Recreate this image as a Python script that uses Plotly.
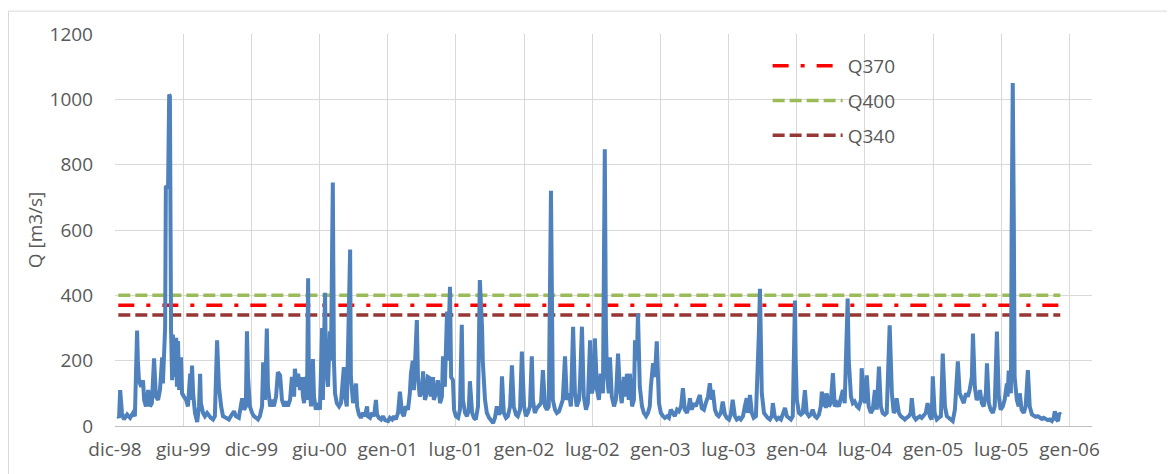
import plotly.graph_objects as go
import pandas as pd

# ---------------------------------------------------------
# DATI
# ---------------------------------------------------------
# portata giornaliera: (giorno dal 1999-01-01, Q m3/s)
SERIE_Q = [
    (0, 30), (2, 25), (5, 110), (10, 40), (15, 20), (24, 35), (32, 25), (40, 40), (45, 30),
    (51, 292), (53, 200), (56, 140), (62, 120), (67, 140), (70, 80), (75, 60), (81, 110),
    (86, 60), (91, 70), (97, 207), (102, 90), (108, 80), (113, 110), (119, 210), (121, 130),
    (127, 300), (129, 735), (135, 730), (138, 1015), (140, 1010), (143, 300), (146, 140),
    (148, 280), (154, 150), (157, 270), (159, 120), (162, 260), (165, 110), (170, 210),
    (173, 100), (178, 90), (184, 80), (189, 60), (195, 160), (197, 80), (200, 185), (203, 100),
    (208, 40), (214, 12), (219, 60), (222, 160), (224, 70), (230, 40), (235, 30), (241, 40),
    (246, 30), (251, 25), (257, 20), (262, 30), (268, 262), (273, 120), (279, 60), (284, 30),
    (292, 25), (300, 20), (308, 35), (314, 45), (319, 30), (327, 25), (336, 85), (341, 50),
    (346, 60), (349, 290), (352, 150), (357, 60), (363, 40), (368, 30), (374, 25), (379, 20),
    (384, 30), (390, 60), (393, 195), (398, 80), (403, 298), (406, 120), (412, 60), (417, 80),
    (422, 60), (428, 90), (433, 165), (439, 155), (444, 80), (450, 60), (455, 75), (460, 60),
    (466, 80), (471, 150), (477, 90), (479, 175), (485, 120), (488, 160), (493, 110),
    (498, 150), (501, 90), (504, 70), (509, 150), (512, 80), (515, 452), (517, 150), (523, 60),
    (528, 205), (531, 90), (536, 50), (542, 70), (547, 50), (553, 300), (555, 80), (561, 408),
    (563, 200), (569, 120), (574, 290), (577, 200), (582, 745), (585, 200), (588, 100),
    (593, 70), (599, 60), (604, 70), (612, 180), (615, 90), (620, 60), (629, 540), (631, 150),
    (637, 70), (645, 130), (648, 60), (653, 35), (658, 25), (664, 40), (669, 30), (675, 60),
    (677, 30), (683, 25), (688, 40), (694, 30), (699, 80), (702, 35), (707, 25), (713, 20),
    (718, 30), (724, 18), (732, 15), (737, 25), (743, 20), (748, 30), (753, 20), (759, 40),
    (764, 105), (770, 40), (775, 30), (780, 60), (786, 50), (791, 100), (794, 160), (799, 200),
    (802, 110), (810, 324), (813, 150), (818, 90), (824, 110), (827, 167), (832, 80),
    (837, 100), (840, 150), (846, 146), (848, 90), (854, 150), (856, 80), (862, 100),
    (867, 140), (873, 70), (878, 90), (881, 213), (886, 120), (892, 350), (894, 200),
    (900, 426), (903, 150), (908, 140), (911, 50), (916, 30), (922, 25), (927, 50), (932, 310),
    (935, 80), (941, 40), (946, 30), (951, 50), (954, 137), (960, 40), (965, 25), (970, 20),
    (976, 60), (979, 300), (981, 447), (987, 300), (989, 198), (995, 80), (1000, 40),
    (1006, 25), (1011, 15), (1017, 9), (1022, 25), (1027, 60), (1033, 35), (1038, 45),
    (1041, 152), (1046, 40), (1052, 25), (1057, 30), (1063, 60), (1065, 100), (1068, 186),
    (1073, 60), (1079, 35), (1084, 30), (1090, 50), (1095, 228), (1101, 60), (1106, 30),
    (1111, 40), (1117, 60), (1122, 213), (1125, 80), (1130, 40), (1136, 55), (1141, 60),
    (1147, 70), (1152, 171), (1158, 60), (1163, 50), (1168, 60), (1174, 720), (1177, 200),
    (1179, 80), (1185, 50), (1190, 40), (1196, 45), (1201, 60), (1206, 80), (1212, 213),
    (1217, 80), (1223, 100), (1228, 60), (1234, 304), (1239, 100), (1244, 60), (1250, 80),
    (1253, 140), (1258, 304), (1263, 90), (1269, 50), (1274, 70), (1280, 262), (1285, 100),
    (1291, 130), (1293, 268), (1299, 110), (1304, 80), (1309, 160), (1315, 100), (1320, 847),
    (1323, 300), (1326, 150), (1331, 100), (1334, 210), (1339, 90), (1345, 60), (1350, 80),
    (1356, 222), (1361, 110), (1366, 70), (1372, 150), (1377, 90), (1380, 160), (1385, 80),
    (1388, 160), (1394, 60), (1399, 80), (1402, 262), (1407, 200), (1410, 344), (1415, 120),
    (1421, 60), (1426, 40), (1432, 30), (1437, 40), (1442, 60), (1445, 120), (1451, 192),
    (1456, 150), (1461, 259), (1467, 70), (1472, 40), (1478, 30), (1483, 25), (1489, 30),
    (1494, 25), (1499, 50), (1505, 40), (1510, 30), (1516, 50), (1521, 45), (1527, 60),
    (1532, 116), (1537, 50), (1543, 40), (1548, 60), (1551, 85), (1556, 50), (1562, 70),
    (1567, 60), (1573, 80), (1578, 95), (1583, 55), (1589, 50), (1594, 70), (1600, 90),
    (1605, 131), (1610, 80), (1613, 110), (1619, 50), (1624, 35), (1629, 30), (1635, 40),
    (1640, 75), (1646, 35), (1651, 25), (1657, 20), (1662, 35), (1667, 80), (1673, 30),
    (1678, 20), (1684, 25), (1689, 20), (1695, 30), (1700, 60), (1705, 85), (1708, 40),
    (1714, 95), (1719, 40), (1724, 25), (1730, 30), (1735, 150), (1738, 280), (1741, 420),
    (1743, 300), (1746, 100), (1752, 40), (1757, 30), (1762, 25), (1768, 20), (1773, 30),
    (1776, 70), (1781, 30), (1787, 20), (1792, 25), (1798, 20), (1803, 35), (1809, 55),
    (1814, 30), (1819, 25), (1825, 20), (1830, 30), (1836, 384), (1838, 200), (1841, 80),
    (1847, 40), (1852, 35), (1857, 40), (1863, 110), (1868, 40), (1874, 30), (1879, 35),
    (1884, 50), (1890, 30), (1895, 25), (1901, 35), (1906, 60), (1909, 105), (1914, 60),
    (1917, 100), (1920, 55), (1922, 100), (1928, 60), (1933, 70), (1939, 162), (1944, 60),
    (1950, 70), (1955, 60), (1960, 80), (1966, 110), (1971, 70), (1977, 250), (1979, 390),
    (1982, 200), (1988, 90), (1993, 70), (1998, 75), (2004, 60), (2009, 55), (2015, 80),
    (2017, 177), (2023, 90), (2026, 70), (2031, 155), (2036, 60), (2042, 40), (2047, 50),
    (2053, 110), (2055, 60), (2058, 50), (2064, 182), (2069, 60), (2074, 40), (2080, 35),
    (2085, 40), (2091, 200), (2093, 308), (2099, 100), (2104, 40), (2110, 50), (2112, 85),
    (2118, 40), (2123, 30), (2129, 25), (2134, 20), (2139, 25), (2145, 30), (2150, 40),
    (2153, 85), (2158, 30), (2164, 20), (2169, 25), (2175, 30), (2180, 25), (2186, 35),
    (2191, 40), (2196, 70), (2202, 30), (2207, 20), (2210, 152), (2215, 40), (2221, 20),
    (2226, 25), (2232, 30), (2237, 222), (2243, 60), (2248, 30), (2253, 25), (2259, 20),
    (2264, 15), (2270, 50), (2275, 140), (2278, 198), (2283, 100), (2289, 80), (2294, 70),
    (2300, 100), (2305, 90), (2310, 110), (2316, 150), (2319, 283), (2324, 120), (2329, 80),
    (2335, 90), (2338, 110), (2343, 70), (2348, 60), (2354, 100), (2357, 192), (2362, 70),
    (2367, 50), (2373, 40), (2378, 60), (2381, 150), (2384, 289), (2389, 90), (2394, 50),
    (2400, 60), (2405, 80), (2411, 130), (2413, 90), (2416, 170), (2422, 100), (2424, 600),
    (2427, 1050), (2430, 600), (2432, 150), (2438, 80), (2443, 60), (2446, 100), (2451, 50),
    (2457, 40), (2462, 60), (2468, 171), (2473, 60), (2479, 35), (2484, 30), (2489, 28),
    (2495, 30), (2500, 25), (2506, 22), (2511, 25), (2517, 20), (2522, 18), (2527, 20),
    (2533, 15), (2538, 25), (2541, 45), (2546, 20), (2550, 15), (2553, 40), (2556, 35),
]
INIZIO_SERIE = "1999-01-01"

# soglie
SOGLIE_NOMI = ["Q370", "Q400", "Q340"]
SOGLIE_VALORI = [370, 400, 340]

# asse X (etichette ogni 185 giorni, come nel grafico Excel)
TICK_LABELS = ["dic-98", "giu-99", "dic-99", "giu-00", "gen-01", "lug-01", "gen-02",
               "lug-02", "gen-03", "lug-03", "gen-04", "lug-04", "gen-05", "lug-05", "gen-06"]
TICK_INIZIO = "1998-12-23"
TICK_PASSO_GIORNI = 185
X_FINE = "2006-03-27"

# ---------------------------------------------------------
# PREPARAZIONE
# ---------------------------------------------------------
giorni = [d for d, _ in SERIE_Q]
portata = [q for _, q in SERIE_Q]
date = pd.Timestamp(INIZIO_SERIE) + pd.to_timedelta(giorni, unit="D")
tickvals = pd.date_range(TICK_INIZIO, periods=len(TICK_LABELS), freq=f"{TICK_PASSO_GIORNI}D")

FONT = "Open Sans"
GRIGIO_TESTO = "#595959"
GRIGLIA = "#d9d9d9"

stili = {
    "Q370": dict(color="#FF0000", width=3.5, dash="16px,12px,4px,12px"),
    "Q400": dict(color="#9BBB59", width=3.5, dash="12px,5px"),
    "Q340": dict(color="#953735", width=3.5, dash="12px,5px"),
}

fig = go.Figure()

# linee di soglia (sotto la serie)
for i, (nome, val) in enumerate(zip(SOGLIE_NOMI, SOGLIE_VALORI)):
    fig.add_trace(go.Scatter(
        x=[date[0], date[-1]], y=[val, val],
        mode="lines", name=nome, legendgroup=nome, legendrank=i + 1,
        line=stili[nome],
    ))

# serie delle portate
fig.add_trace(go.Scatter(
    x=date, y=portata, mode="lines", name="Q",
    line=dict(color="#4F81BD", width=4), showlegend=False,
))

# bordo esterno dell'area grafico
fig.add_shape(type="rect", xref="paper", yref="paper",
              x0=-0.1090, x1=1.2, y0=-0.2, y1=1.0584,
              line=dict(color=GRIGLIA, width=1), fillcolor="rgba(0,0,0,0)", layer="below")

# la pagina html ha 8px di margine: figura leggermente più piccola
fig.update_layout(
    width=1167, height=466,
    margin=dict(l=107, r=83, t=26, b=46),
    paper_bgcolor="white", plot_bgcolor="white",
    font=dict(family=FONT, size=19, color=GRIGIO_TESTO),
    legend=dict(
        x=0.668, y=0.967, xanchor="left", yanchor="top",
        bgcolor="rgba(0,0,0,0)", traceorder="grouped", tracegroupgap=7,
        itemwidth=70,
        font=dict(size=19, color=GRIGIO_TESTO),
    ),
    xaxis=dict(
        range=[pd.Timestamp(TICK_INIZIO), pd.Timestamp(X_FINE)],
        tickmode="array", tickvals=tickvals, ticktext=TICK_LABELS,
        showgrid=True, gridcolor=GRIGLIA, gridwidth=1,
        showline=True, linecolor="#bfbfbf", linewidth=1,
        ticks="", ticklabelstandoff=6, zeroline=False,
    ),
    yaxis=dict(
        range=[0, 1200], dtick=200, tick0=0,
        showgrid=True, gridcolor=GRIGLIA, gridwidth=1,
        showline=False, zeroline=False, ticks="", ticklabelstandoff=21,
        title=dict(text="Q [m3/s]", standoff=1, font=dict(size=19, color=GRIGIO_TESTO)),
    ),
)

fig.write_html("out.html")
